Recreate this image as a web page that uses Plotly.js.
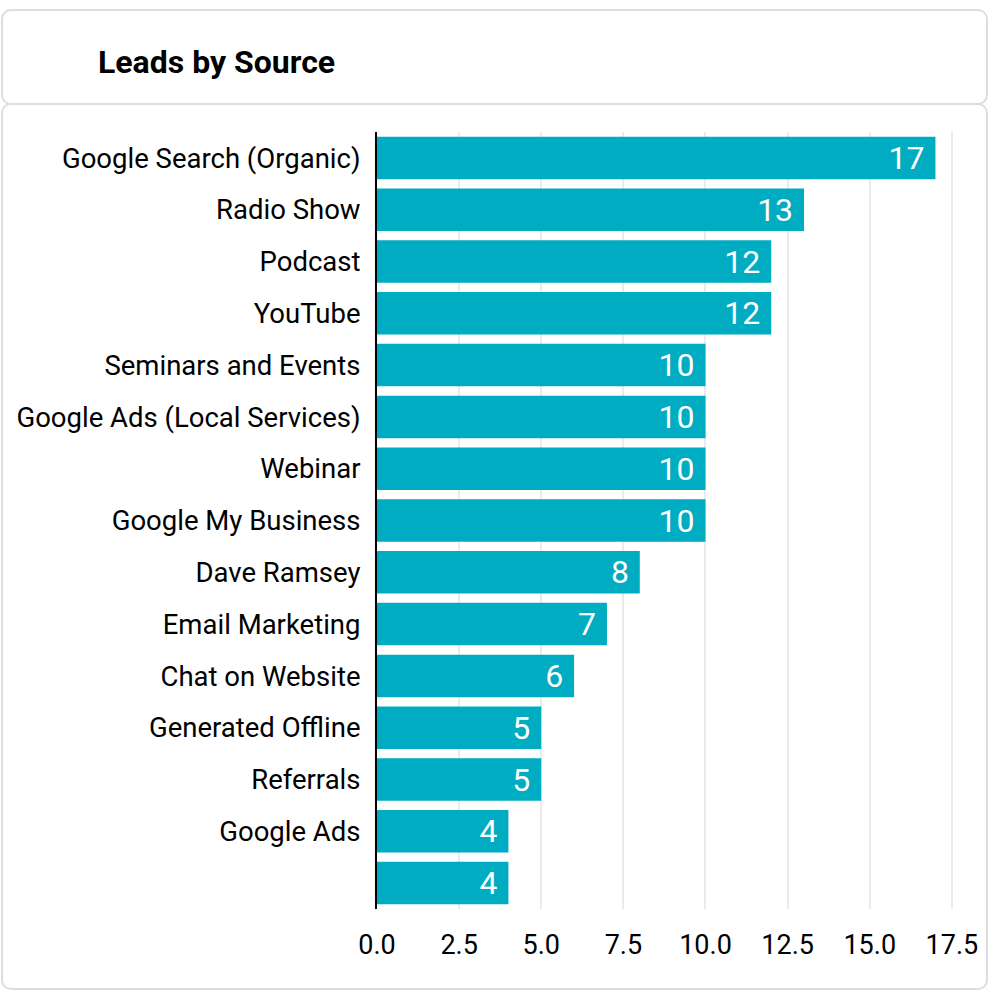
<!DOCTYPE html>
<html>
<head>
<meta charset="utf-8">
<script src="https://cdn.plot.ly/plotly-3.0.1.min.js"></script>
<style>
  html, body { margin: 0; padding: 0; background: #fff; width: 999px; height: 994px; overflow: hidden; font-family: Roboto, sans-serif; }
  .card { position: absolute; left: 1px; width: 987px; border: 2px solid #dedede; border-radius: 10px; background: #fff; box-sizing: border-box; }
  #head { top: 9px; height: 96px; }
  #bodycard { top: 103px; height: 887px; }
  #title { position: absolute; left: 98px; top: 42px; font-size: 32px; font-weight: bold; color: #000; line-height: 40px; }
  #chart { position: absolute; left: 0; top: 0; width: 999px; height: 994px; }
</style>
</head>
<body>
<div class="card" id="bodycard"></div>
<div class="card" id="head"></div>
<div id="title">Leads by Source</div>
<div id="chart"></div>
<script>
const sources = [
  "Google Search (Organic)", "Radio Show", "Podcast", "YouTube",
  "Seminars and Events", "Google Ads (Local Services)", "Webinar",
  "Google My Business", "Dave Ramsey", "Email Marketing",
  "Chat on Website", "Generated Offline", "Referrals", "Google Ads", " "
];
const leads = [17, 13, 12, 12, 10, 10, 10, 10, 8, 7, 6, 5, 5, 4, 4];
const xTicks = [0, 2.5, 5, 7.5, 10, 12.5, 15, 17.5];

Plotly.newPlot("chart", [{
  type: "bar",
  orientation: "h",
  y: sources,
  x: leads,
  text: leads.map(v => v + " "),
  textposition: "inside",
  insidetextanchor: "end",
  textangle: 0,
  constraintext: "none",
  textfont: { color: "#ffffff", size: 32, family: "Roboto" },
  marker: { color: "#00acc1" },
  hoverinfo: "none"
}], {
  width: 999, height: 994,
  margin: { l: 377, r: 34, t: 132, b: 85 },
  paper_bgcolor: "rgba(0,0,0,0)",
  plot_bgcolor: "rgba(0,0,0,0)",
  font: { family: "Roboto", color: "#000" },
  bargap: 0.18,
  showlegend: false,
  xaxis: {
    range: [0, 17.9],
    tickvals: xTicks,
    ticktext: xTicks.map(v => v.toFixed(1)),
    showgrid: true, gridcolor: "#ebebeb", gridwidth: 2,
    zeroline: false, showline: false,
    ticks: "outside", ticklen: 12, tickcolor: "rgba(0,0,0,0)",
    tickfont: { size: 27, color: "#000" }
  },
  yaxis: {
    type: "category",
    categoryorder: "array", categoryarray: sources,
    autorange: "reversed",
    showgrid: false, zeroline: false,
    showline: true, linecolor: "#000", linewidth: 2,
    ticks: "outside", ticklen: 9, tickcolor: "rgba(0,0,0,0)",
    tickfont: { size: 27.5, color: "#000" }
  }
}, { staticPlot: true, displayModeBar: false });
</script>
</body>
</html>
